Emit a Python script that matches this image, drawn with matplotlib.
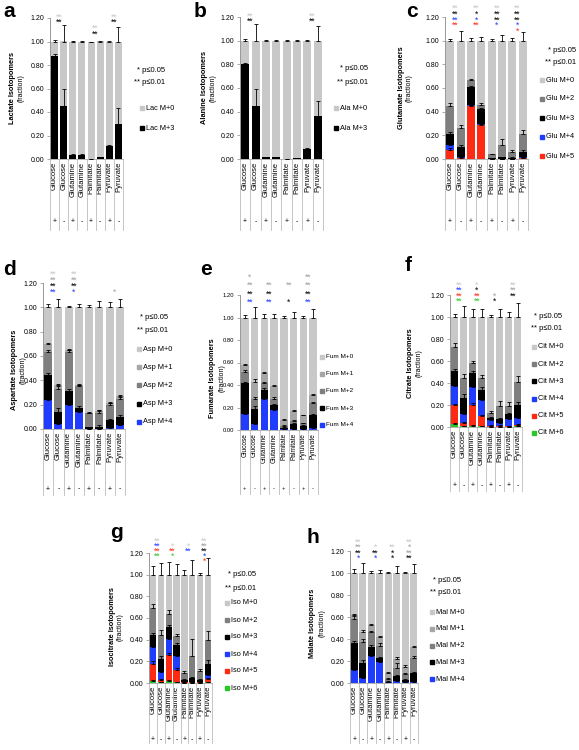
import matplotlib
matplotlib.use('Agg')
import matplotlib.pyplot as plt
import numpy as np
from matplotlib.lines import Line2D
from matplotlib.transforms import blended_transform_factory

plt.rcParams['font.family'] = ['Liberation Sans', 'DejaVu Sans']

W, H = 579, 750

categories = ['Glucose', 'Glucose', 'Glutamine', 'Glutamine',
              'Palmitate', 'Palmitate', 'Pyruvate', 'Pyruvate']
signs = ['+', '-', '+', '-', '+', '-', '+', '-']

# colours of the isotopomers
C0, C1, C2, C3 = '#c8c8c8', '#a6a6a6', '#7f7f7f', '#000000'
C4, C5, C6 = '#1f3cff', '#ff2a14', '#28c828'
SC = {'l': '#c8c8c8', 'g': '#a0a0a0', 'k': 'black', 'b': C4, 'r': C5, 'n': C6}

# ---- a: lactate (bottom -> top)
lac_names = ['M+3', 'M+0']
lac_m3 = [0.88, 0.45, 0.03, 0.03, 0.00, 0.015, 0.11, 0.30]
lac_m0 = [0.12, 0.55, 0.97, 0.97, 1.00, 0.985, 0.89, 0.70]
lac_m3_err = [0.015, 0.15, 0.01, 0.01, 0.0, 0.005, 0.01, 0.13]
lac_m0_err = [0.01, 0.14, 0.005, 0.005, 0.0, 0.005, 0.005, 0.12]
stars_a = ['l** k**', '', '_ _ l** k**', 'l** k**']

# ---- b: alanine
ala_names = ['M+3', 'M+0']
ala_m3 = [0.80, 0.45, 0.015, 0.015, 0.0, 0.008, 0.085, 0.36]
ala_m0 = [0.20, 0.55, 0.985, 0.985, 1.0, 0.992, 0.915, 0.64]
ala_m3_err = [0.015, 0.14, 0.005, 0.005, 0.0, 0.003, 0.01, 0.13]
ala_m0_err = [0.01, 0.14, 0.005, 0.005, 0.003, 0.005, 0.005, 0.12]
stars_b = ['l** k**', '', '', 'l** k**']

# ---- c: glutamate
glu_names = ['M+5', 'M+4', 'M+3', 'M+2', 'M+0']
glu_m5 = [0.08, 0.01, 0.45, 0.29, 0.0, 0.0, 0.0, 0.005]
glu_m4 = [0.04, 0.01, 0.01, 0.01, 0.0, 0.0, 0.0, 0.01]
glu_m3 = [0.09, 0.08, 0.15, 0.12, 0.005, 0.015, 0.01, 0.045]
glu_m2 = [0.24, 0.16, 0.06, 0.04, 0.035, 0.105, 0.05, 0.15]
glu_m0 = [0.55, 0.74, 0.33, 0.54, 0.96, 0.88, 0.94, 0.79]
glu_err = [[0.01, 0.005, 0.01, 0.01, 0, 0, 0, 0.005],
           [0.01, 0.005, 0.005, 0.005, 0, 0, 0, 0.005],
           [0.02, 0.02, 0.01, 0.01, 0.002, 0.005, 0.005, 0.02],
           [0.02, 0.03, 0.01, 0.01, 0.005, 0.05, 0.02, 0.035],
           [0.01, 0.08, 0.02, 0.03, 0.01, 0.05, 0.02, 0.07]]
stars_c = ['l** k** b** r**', 'l** k* b* r**', 'l** k** k** b*', 'l** k** k** b* r*']

# ---- d: aspartate
asp_names = ['M+4', 'M+3', 'M+2', 'M+1', 'M+0']
asp_m4 = [0.24, 0.04, 0.20, 0.14, 0.0, 0.0, 0.01, 0.03]
asp_m3 = [0.20, 0.10, 0.11, 0.03, 0.015, 0.02, 0.06, 0.07]
asp_m2 = [0.19, 0.19, 0.32, 0.18, 0.115, 0.11, 0.13, 0.15]
asp_m1 = [0.07, 0.03, 0.02, 0.01, 0.005, 0.02, 0.01, 0.02]
asp_m0 = [0.30, 0.64, 0.35, 0.64, 0.865, 0.85, 0.79, 0.73]
asp_err = [[0.01, 0.01, 0.02, 0.01, 0, 0, 0.005, 0.005],
           [0.02, 0.03, 0.02, 0.02, 0.005, 0.01, 0.01, 0.015],
           [0.02, 0.02, 0.02, 0.01, 0.005, 0.03, 0.015, 0.01],
           [0.01, 0.01, 0.01, 0.01, 0.005, 0.01, 0.01, 0.01],
           [0.03, 0.07, 0.01, 0.03, 0.02, 0.05, 0.04, 0.07]]
stars_d = ['l** g** k** b**', 'l** g** k** b*', '', '_ _ _ g*']

# ---- e: fumarate
fum_names = ['M+4', 'M+3', 'M+2', 'M+1', 'M+0']
fum_m4 = [0.14, 0.05, 0.28, 0.18, 0.005, 0.01, 0.01, 0.02]
fum_m3 = [0.28, 0.14, 0.08, 0.04, 0.015, 0.04, 0.03, 0.11]
fum_m2 = [0.10, 0.09, 0.06, 0.06, 0.02, 0.03, 0.02, 0.11]
fum_m1 = [0.06, 0.15, 0.09, 0.11, 0.05, 0.09, 0.07, 0.07]
fum_m0 = [0.42, 0.57, 0.49, 0.61, 0.91, 0.83, 0.87, 0.69]
fum_err = [[0.01, 0.01, 0.01, 0.01, 0, 0, 0, 0.005],
           [0.01, 0.02, 0.01, 0.01, 0.005, 0.01, 0.005, 0.01],
           [0.01, 0.01, 0.01, 0.01, 0.005, 0.01, 0.005, 0.01],
           [0.01, 0.02, 0.01, 0.01, 0.005, 0.01, 0.005, 0.01],
           [0.02, 0.09, 0.03, 0.03, 0.01, 0.05, 0.01, 0.08]]
stars_e = ['g* g** k** b**', '_ g** k** b**', '_ g** _ k*', 'g** g** k** b**']

# ---- f: citrate
cit_names = ['M+6', 'M+5', 'M+4', 'M+3', 'M+2', 'M+0']
cit_m6 = [0.03, 0.01, 0.01, 0.005, 0.0, 0.0, 0.0, 0.005]
cit_m5 = [0.17, 0.03, 0.19, 0.095, 0.01, 0.01, 0.005, 0.015]
cit_m4 = [0.17, 0.08, 0.16, 0.15, 0.05, 0.03, 0.065, 0.06]
cit_m3 = [0.14, 0.14, 0.13, 0.09, 0.02, 0.03, 0.05, 0.12]
cit_m2 = [0.22, 0.19, 0.09, 0.11, 0.05, 0.12, 0.07, 0.21]
cit_m0 = [0.27, 0.55, 0.42, 0.55, 0.87, 0.81, 0.81, 0.59]
cit_err = [[0.005, 0, 0.005, 0, 0, 0, 0, 0],
           [0.01, 0.01, 0.02, 0.01, 0.005, 0.005, 0.005, 0.005],
           [0.02, 0.02, 0.02, 0.02, 0.01, 0.01, 0.01, 0.01],
           [0.02, 0.04, 0.02, 0.02, 0.01, 0.01, 0.01, 0.03],
           [0.03, 0.03, 0.02, 0.02, 0.02, 0.05, 0.04, 0.05],
           [0.03, 0.10, 0.07, 0.07, 0.02, 0.07, 0.05, 0.13]]
stars_f = ['l** b** r** n**', 'l* k* r** n**', '_ _ g* k*', 'l** g** k**']

# ---- g: isocitrate
iso_names = ['M+6', 'M+5', 'M+4', 'M+3', 'M+2', 'M+0']
iso_m6 = [0.02, 0.01, 0.02, 0.01, 0.0, 0.0, 0.0, 0.01]
iso_m5 = [0.16, 0.02, 0.24, 0.11, 0.005, 0.005, 0.005, 0.03]
iso_m4 = [0.15, 0.07, 0.15, 0.13, 0.005, 0.005, 0.005, 0.03]
iso_m3 = [0.11, 0.12, 0.11, 0.10, 0.02, 0.04, 0.02, 0.11]
iso_m2 = [0.25, 0.22, 0.12, 0.08, 0.06, 0.20, 0.08, 0.22]
iso_m0 = [0.31, 0.56, 0.36, 0.57, 0.91, 0.75, 0.89, 0.60]
iso_err = [[0.005, 0, 0.005, 0, 0, 0, 0, 0],
           [0.02, 0.01, 0.02, 0.02, 0.005, 0.005, 0.005, 0.005],
           [0.02, 0.02, 0.03, 0.02, 0.005, 0.005, 0.005, 0.01],
           [0.02, 0.03, 0.02, 0.02, 0.01, 0.01, 0.005, 0.03],
           [0.04, 0.05, 0.03, 0.02, 0.02, 0.16, 0.02, 0.08],
           [0.08, 0.11, 0.12, 0.10, 0.04, 0.14, 0.02, 0.15]]
stars_g = ['l** b** r** n**', '_ l* r** n*', '_ l* b**', 'l** g** k** b* r*']

# ---- h: malate
mal_names = ['M+4', 'M+3', 'M+2', 'M+1', 'M+0']
mal_m4 = [0.12, 0.05, 0.25, 0.19, 0.005, 0.02, 0.005, 0.01]
mal_m3 = [0.24, 0.13, 0.08, 0.04, 0.005, 0.04, 0.025, 0.08]
mal_m2 = [0.22, 0.19, 0.13, 0.11, 0.03, 0.08, 0.05, 0.14]
mal_m1 = [0.04, 0.09, 0.07, 0.08, 0.05, 0.08, 0.07, 0.10]
mal_m0 = [0.38, 0.54, 0.47, 0.58, 0.91, 0.78, 0.85, 0.67]
mal_err = [[0.01, 0.01, 0.01, 0.01, 0, 0.005, 0, 0.005],
           [0.02, 0.03, 0.02, 0.01, 0.005, 0.01, 0.01, 0.01],
           [0.03, 0.03, 0.01, 0.02, 0.01, 0.04, 0.01, 0.02],
           [0.01, 0.02, 0.01, 0.01, 0.01, 0.02, 0.01, 0.01],
           [0.04, 0.09, 0.02, 0.03, 0.01, 0.06, 0.01, 0.08]]
stars_h = ['l** g** k** b*', '_ l* k** b*', '_ l** k* k*', 'l** g* g** k**']

# pixel layout of each panel
LAYOUT = {
    'a': dict(ax=(50, 18, 123, 159), letter=(3, 2), ylab=(13, 21, 88), table=230, sign=222,
              pv=(165, 70, 82), leg=(142, 108, 20), star=(1.21, 0.05), fs=5),
    'b': dict(ax=(240, 17, 323, 159), letter=(194, 2), ylab=(205, 213, 88), table=230, sign=222,
              pv=(368, 68, 82), leg=(336, 108, 20), star=(1.21, 0.05), fs=5),
    'c': dict(ax=(445, 17, 528, 159), letter=(406, 2), ylab=(401, 409, 88), table=230, sign=222,
              pv=(576, 50, 62), leg=(542, 80, 19), star=(1.27, 0.047), fs=5),
    'd': dict(ax=(43, 283, 125, 429), letter=(3, 260), ylab=(15, 23, 370), table=495, sign=489,
              pv=(168, 317, 331), leg=(139, 349, 18.2), star=(1.27, 0.05), fs=5),
    'e': dict(ax=(240, 295, 318, 430), letter=(200, 260), ylab=(213, 222, 378), table=494, sign=489,
              pv=None, leg=(322, 357, 17), star=(1.36, 0.075), fs=4.2),
    'f': dict(ax=(450, 295, 522, 427), letter=(405, 256), ylab=(411, 419, 363), table=491, sign=486,
              pv=(562, 316, 329), leg=(534, 347, 17.2), star=(1.29, 0.05), fs=5),
    'g': dict(ax=(149, 553, 212, 683), letter=(110, 523), ylab=(112, 120, 627), table=743, sign=740,
              pv=(256, 575, 588), leg=(227, 603, 17), star=(1.31, 0.047), fs=5),
    'h': dict(ax=(350, 551, 418, 683), letter=(307, 528), ylab=(313, 322, 623), table=743, sign=740,
              pv=(461, 580, 593), leg=(432, 612, 16.8), star=(1.28, 0.05), fs=5),
}

fig = plt.figure(figsize=(W / 100, H / 100), dpi=100)


def draw_panel(key, ylabel, prefix, names, colors, values, errors, stars):
    L = LAYOUT[key]
    l, t, r, b = L['ax']
    ax = fig.add_axes([l / W, 1 - b / H, (r - l) / W, (b - t) / H])
    x = np.arange(len(categories))
    bottom = np.zeros(len(categories))
    for vals, errs, col in zip(values, errors, colors):
        ax.bar(x, vals, 0.78, bottom=bottom, color=col, zorder=2)
        top = bottom + np.array(vals)
        ax.errorbar(x, top, yerr=[np.zeros(len(x)), errs], fmt='none', ecolor='black',
                    elinewidth=0.6, capsize=1.6, capthick=0.6, zorder=3)
        bottom = top
    ax.set_xlim(-0.5, 7.5)
    ax.set_ylim(0, 1.2)
    ax.set_yticks(np.arange(0, 1.21, 0.2))
    ax.set_yticklabels(['%.2f' % v for v in np.arange(0, 1.21, 0.2)], fontsize=L['fs'])
    ax.tick_params(axis='y', length=2, width=0.5, pad=2, color='#888888')
    ax.set_xticks(x)
    ax.set_xticklabels(categories, rotation=90, fontsize=L['fs'] + 0.5)
    ax.tick_params(axis='x', length=0, pad=2)
    for s in ['top', 'right']:
        ax.spines[s].set_visible(False)
    ax.spines['left'].set_color('#888888')
    ax.spines['left'].set_linewidth(0.6)
    ax.spines['bottom'].set_color('#aaaaaa')
    ax.spines['bottom'].set_linewidth(0.6)

    # category table below the axis
    blend = blended_transform_factory(ax.transData, fig.transFigure)
    for xb in np.arange(-0.5, 8, 1):
        ax.plot([xb, xb], [1 - b / H, 1 - L['table'] / H], transform=blend,
                color='#bbbbbb', lw=0.6, clip_on=False)
    for i, s in enumerate(signs):
        ax.text(i, 1 - L['sign'] / H, s, transform=blend, ha='center', va='center',
                fontsize=L['fs'])

    # significance stars, one stack per substrate pair
    top0, step = L['star']
    for p, spec in enumerate(stars):
        for k, tok in enumerate(spec.split()):
            if tok == '_':
                continue
            ax.text(2 * p + 0.5, top0 - k * step, tok[1:], color=SC[tok[0]], ha='center',
                    va='center', fontsize=6.2, clip_on=False)

    # panel letter and y label
    fig.text(L['letter'][0] / W, 1 - L['letter'][1] / H, key, fontsize=15,
             fontweight='bold', va='top', ha='left')
    x1, x2, yc = L['ylab']
    fig.text(x1 / W, 1 - yc / H, ylabel, rotation=90, fontweight='bold', fontsize=5.3,
             ha='center', va='center')
    fig.text(x2 / W, 1 - yc / H, '(fraction)', rotation=90, fontsize=5,
             ha='center', va='center')

    # p-value note
    if L['pv'] is not None:
        xe, y1, y2 = L['pv']
        fig.text(xe / W, 1 - y1 / H, '* p≤0.05', fontsize=5.5, ha='right', va='center')
        fig.text(xe / W, 1 - y2 / H, '** p≤0.01', fontsize=5.5, ha='right', va='center')

    # legend, top entry first
    mx, my, dy = L['leg']
    fsl = 4.6 if key == 'e' else 5.3
    for k, (nm, col) in enumerate(zip(names[::-1], colors[::-1])):
        yy = 1 - (my + k * dy) / H
        fig.add_artist(Line2D([mx / W], [yy], marker='s', ms=3, color=col, ls='none',
                              transform=fig.transFigure))
        fig.text((mx + 4) / W, yy, prefix + ' ' + nm, fontsize=fsl, va='center', ha='left')


draw_panel('a', 'Lactate Isotopomers', 'Lac', lac_names, [C3, C0],
           [lac_m3, lac_m0], [lac_m3_err, lac_m0_err], stars_a)
draw_panel('b', 'Alanine Isotopomers', 'Ala', ala_names, [C3, C0],
           [ala_m3, ala_m0], [ala_m3_err, ala_m0_err], stars_b)
draw_panel('c', 'Glutamate Isotopomers', 'Glu', glu_names, [C5, C4, C3, C2, C0],
           [glu_m5, glu_m4, glu_m3, glu_m2, glu_m0], glu_err, stars_c)
draw_panel('d', 'Aspartate Isotopomers', 'Asp', asp_names, [C4, C3, C2, C1, C0],
           [asp_m4, asp_m3, asp_m2, asp_m1, asp_m0], asp_err, stars_d)
draw_panel('e', 'Fumarate Isotopomers', 'Fum', fum_names, [C4, C3, C2, C1, C0],
           [fum_m4, fum_m3, fum_m2, fum_m1, fum_m0], fum_err, stars_e)
draw_panel('f', 'Citrate Isotopomers', 'Cit', cit_names, [C6, C5, C4, C3, C2, C0],
           [cit_m6, cit_m5, cit_m4, cit_m3, cit_m2, cit_m0], cit_err, stars_f)
draw_panel('g', 'Isocitrate Isotopomers', 'Iso', iso_names, [C6, C5, C4, C3, C2, C0],
           [iso_m6, iso_m5, iso_m4, iso_m3, iso_m2, iso_m0], iso_err, stars_g)
draw_panel('h', 'Malate Isotopomers', 'Mal', mal_names, [C4, C3, C2, C1, C0],
           [mal_m4, mal_m3, mal_m2, mal_m1, mal_m0], mal_err, stars_h)

fig.savefig('out.png', dpi=100)
